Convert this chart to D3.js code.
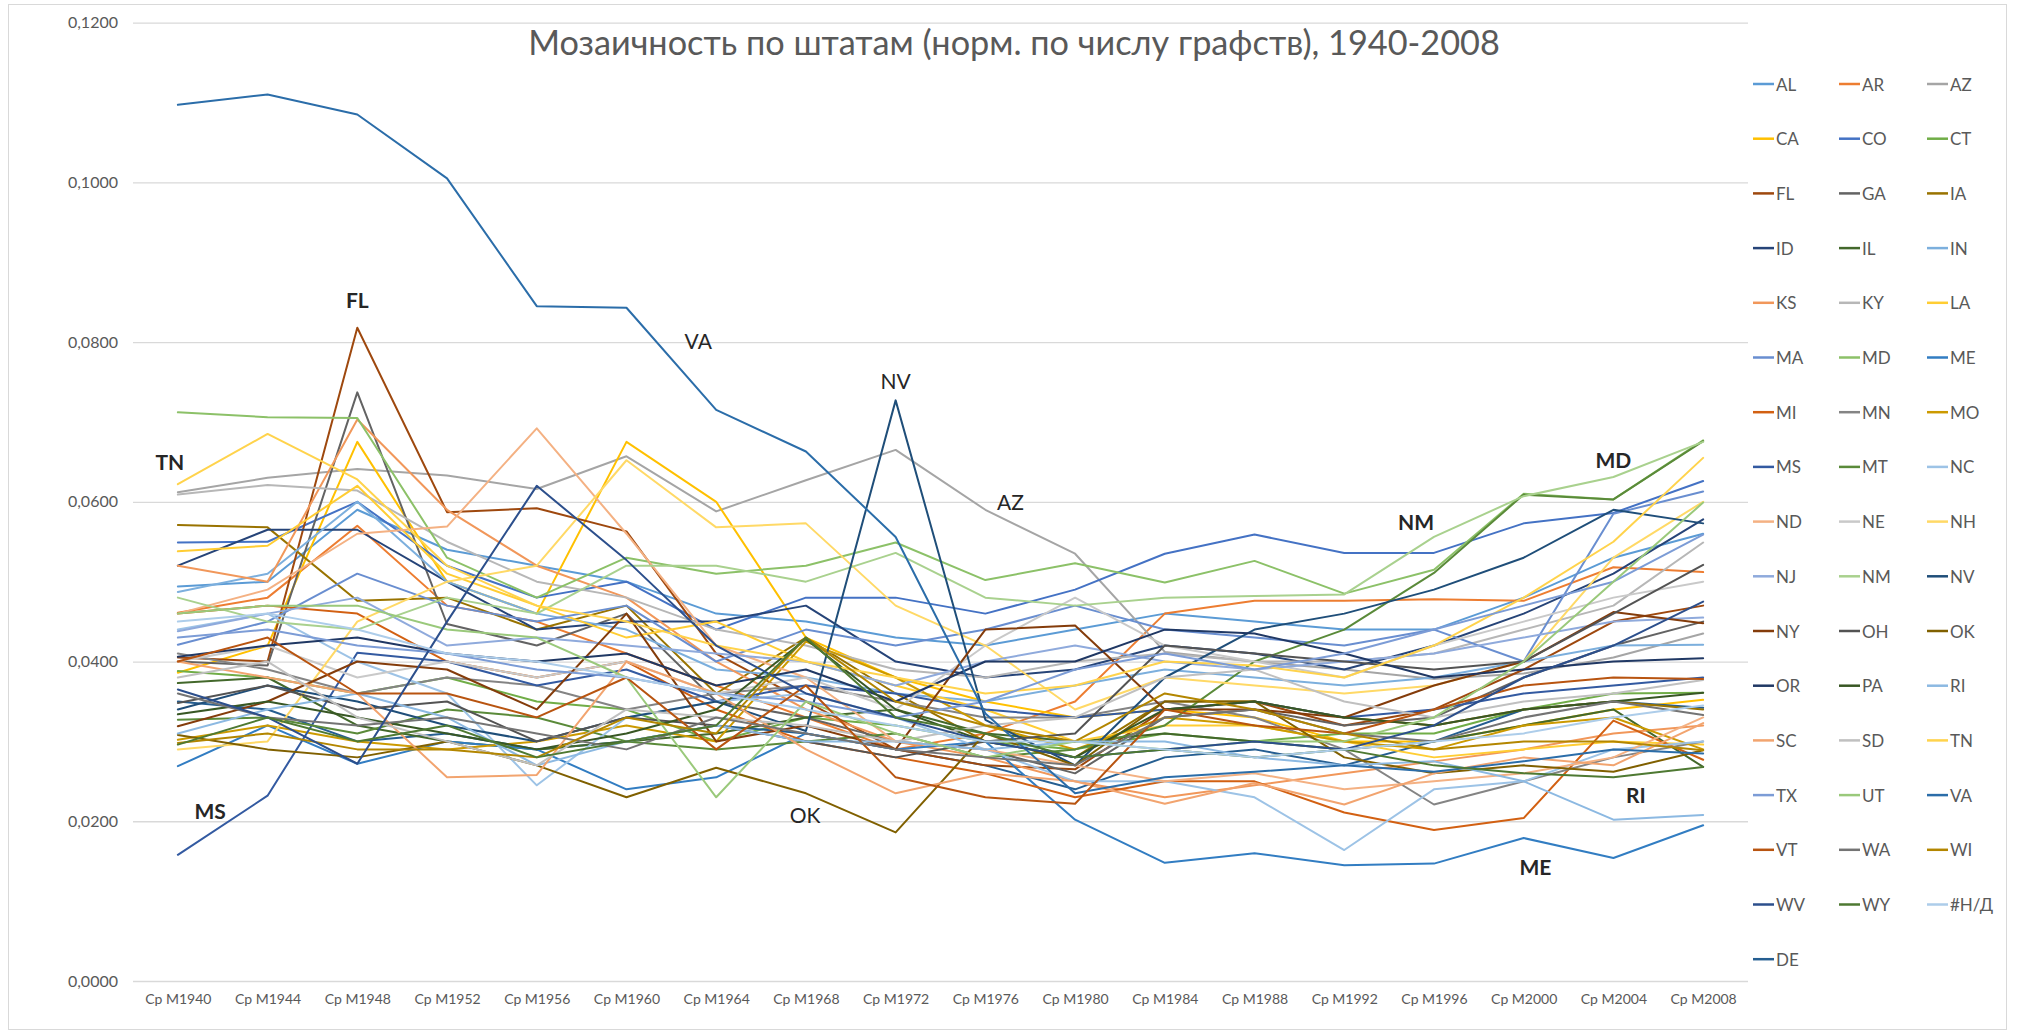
<!DOCTYPE html>
<html>
<head>
<meta charset="utf-8">
<script src="https://cdn.jsdelivr.net/npm/d3@7"></script>
<style>
  body { margin: 0; background: #fff; }
  svg { display: block; font-family: Lato, "Open Sans", "DejaVu Sans", sans-serif; }
</style>
</head>
<body>
<svg id="chart" width="2019" height="1033"></svg>
<script>
// Category labels (election periods) and y-axis ticks
const periods = ["Ср M1940","Ср M1944","Ср M1948","Ср M1952","Ср M1956","Ср M1960","Ср M1964","Ср M1968","Ср M1972",
                 "Ср M1976","Ср M1980","Ср M1984","Ср M1988","Ср M1992","Ср M1996","Ср M2000","Ср M2004","Ср M2008"];
const yTicks = [0, 0.02, 0.04, 0.06, 0.08, 0.10, 0.12];

// Mosaic index per state, one value per period
const AL = [0.0494,0.0500,0.0590,0.0540,0.0520,0.0500,0.0460,0.0450,0.0430,0.0420,0.0440,0.0460,0.0450,0.0440,0.0440,0.0480,0.0530,0.0560];
const AR = [0.0461,0.0480,0.0570,0.0470,0.0450,0.0410,0.0370,0.0330,0.0290,0.0310,0.0350,0.0460,0.0476,0.0476,0.0478,0.0476,0.0518,0.0512];
const AZ = [0.0612,0.0630,0.0641,0.0633,0.0616,0.0657,0.0588,0.0627,0.0665,0.0590,0.0535,0.0412,0.0400,0.0390,0.0378,0.0385,0.0405,0.0435];
const CA = [0.0386,0.0420,0.0675,0.0500,0.0460,0.0675,0.0600,0.0430,0.0380,0.0350,0.0330,0.0340,0.0330,0.0300,0.0300,0.0320,0.0340,0.0352];
const CO = [0.0549,0.0550,0.0600,0.0520,0.0480,0.0500,0.0440,0.0480,0.0480,0.0460,0.0490,0.0535,0.0559,0.0536,0.0536,0.0573,0.0586,0.0626];
const CT = [0.0388,0.0380,0.0360,0.0380,0.0350,0.0340,0.0300,0.0330,0.0320,0.0300,0.0290,0.0310,0.0300,0.0310,0.0310,0.0340,0.0360,0.0361];
const DE = [0.0350,0.0340,0.0300,0.0310,0.0290,0.0300,0.0320,0.0310,0.0290,0.0270,0.0240,0.0280,0.0290,0.0270,0.0300,0.0340,0.0350,0.0342];
const FL = [0.0405,0.0400,0.0818,0.0587,0.0592,0.0563,0.0410,0.0350,0.0290,0.0270,0.0265,0.0340,0.0350,0.0320,0.0340,0.0390,0.0450,0.0470];
const GA = [0.0400,0.0395,0.0737,0.0447,0.0420,0.0460,0.0350,0.0330,0.0300,0.0290,0.0260,0.0330,0.0340,0.0320,0.0330,0.0380,0.0420,0.0450];
const IA = [0.0571,0.0568,0.0476,0.0480,0.0440,0.0470,0.0360,0.0430,0.0360,0.0300,0.0280,0.0350,0.0350,0.0330,0.0320,0.0340,0.0350,0.0340];
const ID = [0.0520,0.0565,0.0565,0.0500,0.0440,0.0450,0.0450,0.0470,0.0400,0.0380,0.0390,0.0420,0.0410,0.0390,0.0420,0.0460,0.0510,0.0578];
const IL = [0.0373,0.0380,0.0320,0.0300,0.0290,0.0300,0.0310,0.0330,0.0340,0.0310,0.0300,0.0310,0.0300,0.0290,0.0300,0.0320,0.0340,0.0268];
const IN = [0.0487,0.0510,0.0600,0.0500,0.0460,0.0440,0.0390,0.0380,0.0360,0.0350,0.0370,0.0390,0.0380,0.0370,0.0380,0.0400,0.0420,0.0421];
const KS = [0.0520,0.0500,0.0703,0.0590,0.0520,0.0480,0.0400,0.0340,0.0300,0.0280,0.0250,0.0230,0.0245,0.0260,0.0275,0.0290,0.0310,0.0320];
const KY = [0.0609,0.0621,0.0614,0.0550,0.0500,0.0480,0.0440,0.0420,0.0390,0.0380,0.0400,0.0410,0.0400,0.0400,0.0410,0.0440,0.0470,0.0549];
const LA = [0.0538,0.0545,0.0620,0.0510,0.0470,0.0430,0.0450,0.0400,0.0370,0.0340,0.0300,0.0320,0.0320,0.0300,0.0280,0.0290,0.0300,0.0296];
const MA = [0.0421,0.0450,0.0510,0.0470,0.0450,0.0470,0.0400,0.0440,0.0420,0.0440,0.0470,0.0440,0.0430,0.0420,0.0440,0.0400,0.0585,0.0613];
const MD = [0.0712,0.0706,0.0705,0.0530,0.0480,0.0530,0.0510,0.0520,0.0549,0.0502,0.0523,0.0499,0.0526,0.0485,0.0515,0.0610,0.0603,0.0677];
const ME = [0.0269,0.0320,0.0272,0.0300,0.0290,0.0240,0.0255,0.0310,0.0290,0.0300,0.0202,0.0148,0.0160,0.0145,0.0147,0.0179,0.0154,0.0195];
const MI = [0.0460,0.0470,0.0460,0.0400,0.0380,0.0400,0.0340,0.0300,0.0280,0.0260,0.0230,0.0250,0.0250,0.0211,0.0189,0.0204,0.0326,0.0277];
const MN = [0.0410,0.0390,0.0360,0.0380,0.0370,0.0340,0.0360,0.0370,0.0350,0.0330,0.0330,0.0350,0.0330,0.0290,0.0221,0.0250,0.0280,0.0300];
const MO = [0.0302,0.0320,0.0300,0.0290,0.0300,0.0320,0.0300,0.0425,0.0380,0.0320,0.0290,0.0330,0.0320,0.0300,0.0290,0.0320,0.0330,0.0290];
const MS = [0.0158,0.0232,0.0411,0.0400,0.0370,0.0390,0.0350,0.0370,0.0360,0.0340,0.0330,0.0340,0.0350,0.0330,0.0340,0.0360,0.0370,0.0380];
const MT = [0.0327,0.0330,0.0310,0.0340,0.0330,0.0300,0.0290,0.0300,0.0310,0.0280,0.0290,0.0320,0.0400,0.0440,0.0511,0.0609,0.0603,0.0676];
const NC = [0.0440,0.0460,0.0400,0.0360,0.0245,0.0330,0.0350,0.0360,0.0330,0.0290,0.0250,0.0250,0.0230,0.0164,0.0240,0.0250,0.0290,0.0300];
const ND = [0.0460,0.0490,0.0560,0.0569,0.0692,0.0560,0.0420,0.0380,0.0300,0.0290,0.0270,0.0250,0.0260,0.0240,0.0250,0.0260,0.0280,0.0330];
const NE = [0.0400,0.0420,0.0380,0.0400,0.0380,0.0400,0.0360,0.0380,0.0340,0.0420,0.0480,0.0420,0.0400,0.0380,0.0420,0.0450,0.0480,0.0500];
const NH = [0.0290,0.0300,0.0450,0.0500,0.0520,0.0652,0.0568,0.0573,0.0470,0.0420,0.0340,0.0380,0.0370,0.0360,0.0370,0.0400,0.0530,0.0600];
const NJ = [0.0438,0.0460,0.0480,0.0420,0.0430,0.0420,0.0410,0.0400,0.0370,0.0400,0.0420,0.0400,0.0390,0.0400,0.0410,0.0430,0.0450,0.0455];
const NM = [0.0480,0.0450,0.0440,0.0480,0.0460,0.0520,0.0520,0.0500,0.0536,0.0480,0.0470,0.0480,0.0482,0.0484,0.0556,0.0607,0.0631,0.0675];
const NV = [0.0340,0.0370,0.0350,0.0320,0.0300,0.0330,0.0350,0.0313,0.0727,0.0327,0.0270,0.0380,0.0440,0.0460,0.0490,0.0530,0.0590,0.0573];
const NY = [0.0319,0.0350,0.0400,0.0390,0.0340,0.0460,0.0300,0.0320,0.0290,0.0440,0.0445,0.0340,0.0340,0.0330,0.0370,0.0400,0.0462,0.0448];
const OH = [0.0348,0.0370,0.0340,0.0350,0.0300,0.0330,0.0320,0.0300,0.0280,0.0300,0.0310,0.0420,0.0410,0.0400,0.0390,0.0400,0.0460,0.0521];
const OK = [0.0308,0.0290,0.0280,0.0300,0.0270,0.0230,0.0267,0.0235,0.0186,0.0310,0.0270,0.0350,0.0350,0.0280,0.0260,0.0270,0.0262,0.0289];
const OR = [0.0406,0.0420,0.0430,0.0410,0.0400,0.0410,0.0370,0.0390,0.0350,0.0400,0.0400,0.0440,0.0435,0.0410,0.0380,0.0390,0.0400,0.0404];
const PA = [0.0334,0.0350,0.0330,0.0310,0.0290,0.0310,0.0340,0.0428,0.0340,0.0300,0.0280,0.0340,0.0350,0.0330,0.0320,0.0340,0.0350,0.0361];
const RI = [0.0310,0.0340,0.0360,0.0330,0.0270,0.0300,0.0320,0.0300,0.0300,0.0290,0.0300,0.0300,0.0280,0.0270,0.0275,0.0250,0.0202,0.0208];
const SC = [0.0400,0.0380,0.0360,0.0255,0.0258,0.0400,0.0360,0.0290,0.0235,0.0260,0.0250,0.0222,0.0248,0.0221,0.0260,0.0280,0.0270,0.0323];
const SD = [0.0380,0.0400,0.0330,0.0300,0.0270,0.0340,0.0330,0.0320,0.0300,0.0320,0.0330,0.0380,0.0390,0.0350,0.0330,0.0350,0.0360,0.0377];
const TN = [0.0622,0.0685,0.0628,0.0520,0.0470,0.0450,0.0420,0.0400,0.0380,0.0360,0.0370,0.0400,0.0395,0.0380,0.0420,0.0480,0.0550,0.0655];
const TX = [0.0430,0.0440,0.0420,0.0410,0.0390,0.0380,0.0360,0.0350,0.0330,0.0350,0.0390,0.0410,0.0390,0.0410,0.0440,0.0470,0.0500,0.0559];
const UT = [0.0460,0.0470,0.0470,0.0440,0.0430,0.0380,0.0230,0.0350,0.0310,0.0280,0.0300,0.0290,0.0300,0.0300,0.0330,0.0400,0.0500,0.0599];
const VA = [0.1097,0.1110,0.1085,0.1005,0.0845,0.0843,0.0715,0.0663,0.0556,0.0335,0.0235,0.0255,0.0262,0.0270,0.0262,0.0275,0.0290,0.0285];
const VT = [0.0400,0.0430,0.0360,0.0360,0.0330,0.0380,0.0290,0.0370,0.0255,0.0230,0.0222,0.0340,0.0320,0.0310,0.0340,0.0370,0.0380,0.0378];
const WA = [0.0360,0.0330,0.0320,0.0330,0.0310,0.0290,0.0330,0.0310,0.0290,0.0280,0.0270,0.0330,0.0340,0.0310,0.0300,0.0330,0.0350,0.0333];
const WI = [0.0298,0.0310,0.0290,0.0290,0.0280,0.0330,0.0310,0.0430,0.0350,0.0320,0.0300,0.0360,0.0340,0.0310,0.0290,0.0300,0.0300,0.0289];
const WV = [0.0365,0.0330,0.0272,0.0450,0.0620,0.0527,0.0420,0.0360,0.0330,0.0300,0.0280,0.0290,0.0300,0.0290,0.0320,0.0380,0.0420,0.0475];
const WY = [0.0296,0.0330,0.0300,0.0320,0.0280,0.0300,0.0320,0.0430,0.0330,0.0310,0.0280,0.0290,0.0280,0.0290,0.0270,0.0260,0.0255,0.0268];
const NA = [0.0450,0.0460,0.0440,0.0410,0.0400,0.0380,0.0360,0.0340,0.0320,0.0300,0.0300,0.0290,0.0280,0.0290,0.0300,0.0310,0.0330,0.0345];

// Series in plotting order
const stateNames = ["AL","AR","AZ","CA","CO","CT","DE","FL","GA","IA","ID","IL","IN","KS","KY","LA","MA","MD","ME","MI",
                    "MN","MO","MS","MT","NC","ND","NE","NH","NJ","NM","NV","NY","OH","OK","OR","PA","RI","SC","SD","TN",
                    "TX","UT","VA","VT","WA","WI","WV","WY","#Н/Д"];
const stateValues = [AL,AR,AZ,CA,CO,CT,DE,FL,GA,IA,ID,IL,IN,KS,KY,LA,MA,MD,ME,MI,
                     MN,MO,MS,MT,NC,ND,NE,NH,NJ,NM,NV,NY,OH,OK,OR,PA,RI,SC,SD,TN,
                     TX,UT,VA,VT,WA,WI,WV,WY,NA];

// Callout labels written on the plot
const callouts = ["TN","MS","FL","VA","NV","OK","AZ","NM","MD","RI","ME"];
const calloutPos = [[-0.09,0.0651],[0.36,0.0214],[2.0,0.0853],[5.8,0.0802],[8.0,0.0752],[6.99,0.0208],
                    [9.28,0.0600],[13.8,0.0575],[16.0,0.0653],[16.25,0.0233],[15.13,0.0143]];
const calloutBold = [true,true,true,false,false,false,false,true,true,true,true];

// Office-style series palette: six accents cycled through shade variants
const accents = ["#5B9BD5","#ED7D31","#A5A5A5","#FFC000","#4472C4","#70AD47"];
const shades = [[1,0],[0.6,0],[0.8,0.2],[0.8,0],[0.6,0.4],[0.5,0],[0.7,0.3],[0.7,0],[0.5,0.5]];
function seriesColor(i) {
  const c = d3.hsl(accents[i % 6]);
  const [mod, off] = shades[Math.floor(i / 6)];
  c.l = c.l * mod + off;
  return c.formatHex();
}

const series = stateNames.map((name, i) => ({ name, values: stateValues[i], color: seriesColor(i) }));

const svg = d3.select("#chart");
const W = 2019, H = 1033;
const plot = { left: 133, right: 1748, top: 22.6, bottom: 981 };

// chart frame
svg.append("rect").attr("x", 0).attr("y", 0).attr("width", W).attr("height", H).attr("fill", "#fff");
svg.append("rect").attr("x", 8.5).attr("y", 4.5).attr("width", 1998).attr("height", 1025)
   .attr("fill", "none").attr("stroke", "#d9d9d9").attr("stroke-width", 1);

const x = d3.scalePoint().domain(periods).range([plot.left, plot.right]).padding(0.5);
const y = d3.scaleLinear().domain([0, 0.12]).range([plot.bottom, plot.top]);
const xPos = d3.scaleLinear().domain([0, periods.length - 1]).range([x(periods[0]), x(periods[periods.length - 1])]);

const ru = d3.formatLocale({ decimal: ",", thousands: " ", grouping: [3], currency: ["", ""] });
const fmt = ru.format(".4f");

// horizontal gridlines
svg.append("g")
  .attr("transform", `translate(${plot.left},0)`)
  .call(d3.axisLeft(y).tickValues(yTicks).tickSize(-(plot.right - plot.left)).tickFormat(""))
  .call(g => g.select(".domain").remove())
  .call(g => g.selectAll("line").attr("stroke", "#d9d9d9").attr("stroke-width", 1.3));

// y-axis labels
svg.append("g")
  .attr("transform", `translate(${plot.left},0)`)
  .call(d3.axisLeft(y).tickValues(yTicks).tickSize(0).tickPadding(15).tickFormat(fmt))
  .call(g => g.select(".domain").remove())
  .call(g => g.selectAll("text").attr("fill", "#595959").style("font-size", "16px")
                 .style("font-family", "Lato, 'Open Sans', sans-serif"));

// x-axis labels
svg.append("g")
  .attr("transform", `translate(0,${plot.bottom})`)
  .call(d3.axisBottom(x).tickSize(0).tickPadding(13))
  .call(g => g.select(".domain").remove())
  .call(g => g.selectAll("text").attr("fill", "#595959").style("font-size", "14px")
                 .style("font-family", "Lato, 'Open Sans', sans-serif"));

// series lines
const line = d3.line()
  .x((d, i) => x(periods[i]))
  .y(d => y(d));

svg.append("g").attr("fill", "none")
  .selectAll("path")
  .data(series)
  .join("path")
  .attr("d", d => line(d.values))
  .attr("stroke", d => d.color)
  .attr("stroke-width", 2)
  .attr("stroke-linejoin", "round")
  .attr("stroke-linecap", "round");

// callouts
svg.append("g")
  .selectAll("text")
  .data(callouts)
  .join("text")
  .attr("x", (d, i) => xPos(calloutPos[i][0]))
  .attr("y", (d, i) => y(calloutPos[i][1]))
  .attr("text-anchor", "middle")
  .attr("dominant-baseline", "central")
  .attr("fill", "#262626")
  .style("font-size", "21px")
  .style("font-weight", (d, i) => calloutBold[i] ? 700 : 400)
  .text(d => d);

// title, sized to span its row
const title = svg.append("text")
  .attr("x", 1014).attr("y", 41)
  .attr("text-anchor", "middle")
  .attr("dominant-baseline", "central")
  .attr("fill", "#595959")
  .style("font-size", "31px")
  .text("Мозаичность по штатам (норм. по числу графств), 1940-2008");
const tw = title.node().getComputedTextLength();
title.style("font-size", (31 * 972 / tw).toFixed(2) + "px");

// legend: three columns, DE listed last
const legendOrder = series.filter(s => s.name !== "DE").concat(series.filter(s => s.name === "DE"));
const legend = svg.append("g");
const colX = [1753, 1839, 1927];
legendOrder.forEach((s, k) => {
  const row = Math.floor(k / 3), col = k % 3;
  const gx = colX[col], gy = 84 + row * 54.7;
  legend.append("line")
    .attr("x1", gx).attr("x2", gx + 21).attr("y1", gy).attr("y2", gy)
    .attr("stroke", s.color).attr("stroke-width", 2.5);
  legend.append("text")
    .attr("x", gx + 23).attr("y", gy)
    .attr("dominant-baseline", "central")
    .attr("fill", "#595959")
    .style("font-size", "17px")
    .text(s.name);
});
</script>
</body>
</html>
